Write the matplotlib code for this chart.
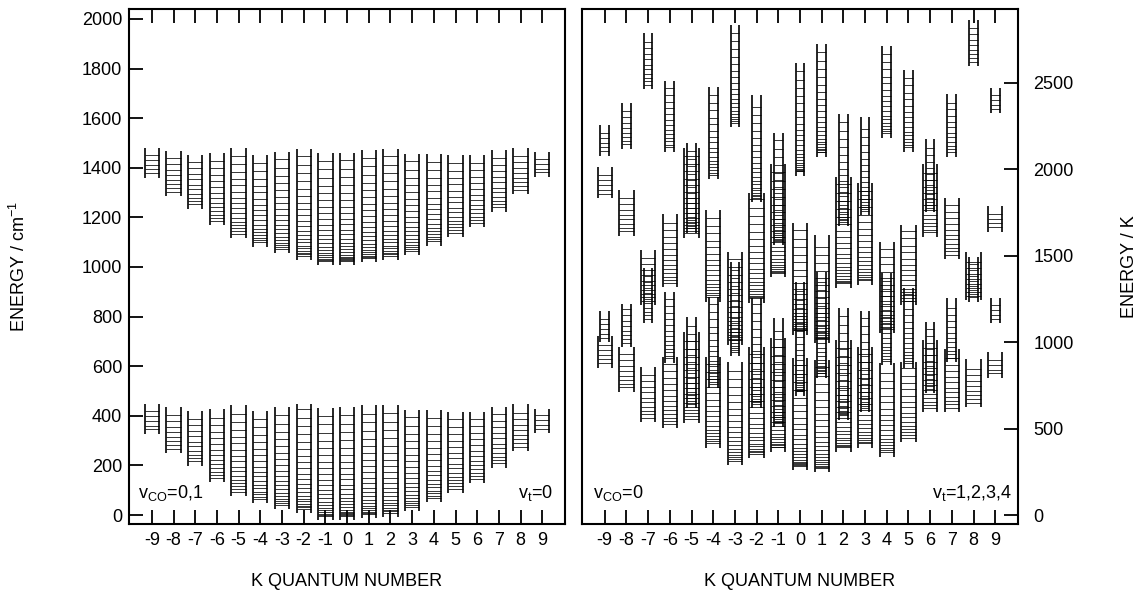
import matplotlib

matplotlib.use("Agg")

import matplotlib.pyplot as plt
from matplotlib.collections import LineCollection
import numpy as np

plt.rcParams["font.family"] = ["Liberation Sans", "DejaVu Sans"]
plt.rcParams["mathtext.default"] = "regular"
plt.rcParams["axes.unicode_minus"] = False

K_VALUES = list(range(-9, 10))

# left panel (cm^-1): vertical rail extents of each K ladder
VCO0_LOW = [327, 250, 198, 133, 77, 48, 24, 8, -20, -20, -12, -8, 16, 52, 89, 129, 190, 258, 331]
VCO0_HIGH = [448, 435, 419, 427, 444, 419, 435, 448, 431, 435, 444, 444, 423, 423, 415, 415, 435, 448, 427]
VCO1_LOW = [1359, 1286, 1234, 1169, 1117, 1081, 1056, 1028, 1008, 1008, 1020, 1028, 1048, 1085, 1121, 1161, 1222, 1294, 1363]
VCO1_HIGH = [1480, 1468, 1452, 1460, 1480, 1452, 1464, 1476, 1460, 1460, 1472, 1476, 1456, 1456, 1452, 1452, 1472, 1480, 1464]

# right panel (K): torsionally excited ladders, v_t = 1..4
N1_LOW = [2078, 2118, 2465, 2101, 1632, 1944, 2245, 1811, 1562, 1962, 2072, 1672, 1736, 2182, 2101, 1753, 2072, 2598, 2326]
N1_HIGH = [2257, 2384, 2789, 2512, 2153, 2477, 2836, 2431, 2211, 2616, 2726, 2321, 2303, 2714, 2575, 2176, 2436, 2865, 2471]
W1_LOW = [1834, 1615, 1215, 1319, 1603, 1233, 984, 1227, 1377, 1042, 995, 1314, 1331, 1053, 1215, 1609, 1481, 1244, 1638]
W1_HIGH = [2014, 1881, 1534, 1742, 2124, 1765, 1522, 1863, 2031, 1690, 1620, 1956, 1921, 1580, 1678, 2031, 1834, 1522, 1788]
N2_LOW = [1001, 972, 1111, 880, 619, 735, 920, 619, 509, 689, 793, 550, 596, 868, 851, 706, 885, 1233, 1111]
N2_HIGH = [1181, 1221, 1429, 1290, 1146, 1262, 1464, 1256, 1140, 1348, 1406, 1198, 1181, 1400, 1314, 1117, 1256, 1493, 1256]
W2_LOW = [851, 712, 538, 503, 532, 388, 289, 330, 365, 260, 249, 365, 388, 336, 422, 596, 596, 625, 793]
W2_HIGH = [1036, 972, 856, 914, 1059, 914, 885, 972, 1024, 909, 897, 1013, 972, 880, 885, 1013, 961, 903, 943]

B_CM = 0.80             # rotational constant, cm^-1
B_K = B_CM * 1.4388     # same in K

WIDE = 0.66
NARROW = 0.40


def ladder_segments(k, e_low, e_high, width, b, pad):
    """Two rails plus J rungs E = E0 + B[J(J+1) - K(K+1)]."""
    half = width / 2.0
    rails = [[(k - half, e_low), (k - half, e_high)],
             [(k + half, e_low), (k + half, e_high)]]
    rungs = []
    kk = abs(k)
    e0 = e_low + pad
    top = e_high - pad
    j = kk
    while True:
        e = e0 + b * (j * (j + 1) - kk * (kk + 1))
        if e > top:
            break
        rungs.append([(k - half, e), (k + half, e)])
        j += 1
    return rails, rungs


def draw_ladders(ax, lows, highs, width, b, pad):
    rails, rungs = [], []
    for k, lo, hi in zip(K_VALUES, lows, highs):
        r, g = ladder_segments(k, lo, hi, width, b, pad)
        rails += r
        rungs += g
    ax.add_collection(LineCollection(rungs, colors="black", linewidths=0.55))
    ax.add_collection(LineCollection(rails, colors="black", linewidths=1.2))


def style_axis(ax):
    for s in ax.spines.values():
        s.set_linewidth(1.5)
    ax.set_xlim(-10.05, 10.05)
    ax.set_xticks(K_VALUES)
    ax.tick_params(axis="both", direction="in", length=10, width=1.3,
                   labelsize=13)
    ax.tick_params(axis="x", top=True, pad=6)
    ax.set_xlabel("K QUANTUM NUMBER", fontsize=13, labelpad=17)


fig = plt.figure(figsize=(11.42, 5.95), dpi=100)
ax1 = fig.add_axes([0.1130, 0.1193, 0.3818, 0.8656])
ax2 = fig.add_axes([0.5096, 0.1193, 0.3818, 0.8656])

# left panel: ground torsional state, v_CO = 0 and 1
draw_ladders(ax1, VCO0_LOW, VCO0_HIGH, WIDE, B_CM, 18)
draw_ladders(ax1, VCO1_LOW, VCO1_HIGH, WIDE, B_CM, 18)
style_axis(ax1)
ax1.set_ylim(-36, 2040)
ax1.set_yticks(np.arange(0, 2001, 200))
ax1.tick_params(axis="y", left=True, right=False, pad=5)
ax1.set_ylabel("ENERGY / cm$^{-1}$", fontsize=13, labelpad=38)
ax1.text(0.02, 0.04, "v$_{CO}$=0,1", transform=ax1.transAxes, fontsize=13,
         ha="left", va="bottom")
ax1.text(0.972, 0.04, "v$_{t}$=0", transform=ax1.transAxes, fontsize=13,
         ha="right", va="bottom")

# right panel: torsionally excited states
draw_ladders(ax2, N1_LOW, N1_HIGH, NARROW, B_K, 26)
draw_ladders(ax2, W1_LOW, W1_HIGH, WIDE, B_K, 26)
draw_ladders(ax2, N2_LOW, N2_HIGH, NARROW, B_K, 26)
draw_ladders(ax2, W2_LOW, W2_HIGH, WIDE, B_K, 26)
style_axis(ax2)
ax2.set_ylim(-52, 2928)
ax2.set_yticks(np.arange(0, 2501, 500))
ax2.yaxis.set_label_position("right")
ax2.yaxis.tick_right()
ax2.tick_params(axis="y", left=False, right=True, pad=11)
ax2.set_ylabel("ENERGY / K", fontsize=13, labelpad=34)
ax2.text(0.025, 0.04, "v$_{CO}$=0", transform=ax2.transAxes, fontsize=13,
         ha="left", va="bottom")
ax2.text(0.986, 0.04, "v$_{t}$=1,2,3,4", transform=ax2.transAxes, fontsize=13,
         ha="right", va="bottom")

fig.savefig("out.png", dpi=100, facecolor="white")
